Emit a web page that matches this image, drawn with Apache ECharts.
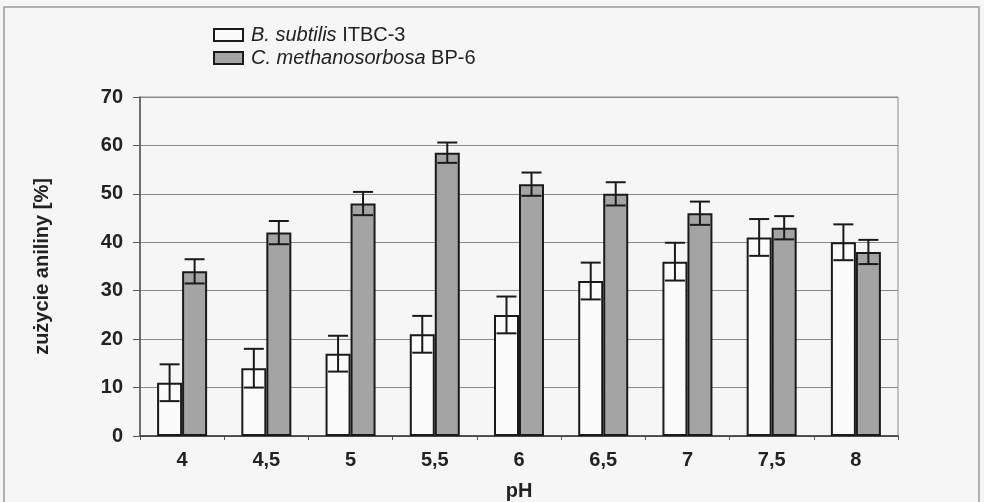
<!DOCTYPE html>
<html>
<head>
<meta charset="utf-8">
<script src="https://cdn.jsdelivr.net/npm/echarts@6/dist/echarts.min.js"></script>
<style>
html,body{margin:0;padding:0;background:#f6f6f6;}
#chart{width:984px;height:502px;}
</style>
</head>
<body>
<div id="chart"></div>
<script>
// ---- data ----
var categories = ['4', '4,5', '5', '5,5', '6', '6,5', '7', '7,5', '8'];
var seriesNames = ['B. subtilis ITBC-3', 'C. methanosorbosa BP-6'];
var subtilisValues = [11, 14, 17, 21, 25, 32, 36, 41, 40];
var subtilisErrors = [3.8, 4, 3.7, 3.8, 3.8, 3.8, 3.9, 3.8, 3.7];
var methanoValues = [34, 42, 48, 58.5, 52, 50, 46, 43, 38];
var methanoErrors = [2.5, 2.4, 2.4, 2.1, 2.4, 2.4, 2.4, 2.4, 2.5];
var yTicks = [0, 10, 20, 30, 40, 50, 60, 70];
var yTitle = 'zużycie aniliny [%]';
var xTitle = 'pH';
var legendRich = {
  'B. subtilis ITBC-3': '{i|B. subtilis} ITBC-3',
  'C. methanosorbosa BP-6': '{i|C. methanosorbosa} BP-6'
};

var chart = echarts.init(document.getElementById('chart'), null, {renderer: 'canvas'});
var FONT = '"Liberation Sans", Arial, sans-serif';
var BAR_W = 25;

function errorSeries(values, errors, offset) {
  var data = values.map(function (v, i) { return [i, v - errors[i], v + errors[i]]; });
  return {
    type: 'custom',
    silent: true,
    z: 10,
    data: data,
    encode: {x: 0, y: [1, 2]},
    renderItem: function (params, api) {
      var idx = api.value(0);
      var lo = api.coord([idx, api.value(1)]);
      var hi = api.coord([idx, api.value(2)]);
      var x = lo[0] + offset;
      var half = 10;
      var st = {stroke: '#1a1a1a', lineWidth: 2, fill: null};
      return {
        type: 'group',
        children: [
          {type: 'line', shape: {x1: x, y1: lo[1], x2: x, y2: hi[1]}, style: st},
          {type: 'line', shape: {x1: x - half, y1: hi[1], x2: x + half, y2: hi[1]}, style: st},
          {type: 'line', shape: {x1: x - half, y1: lo[1], x2: x + half, y2: lo[1]}, style: st}
        ]
      };
    }
  };
}

var option = {
  backgroundColor: '#f6f6f6',
  animation: false,
  textStyle: {fontFamily: FONT},
  graphic: [{
    type: 'rect',
    shape: {x: 4, y: 7, width: 975, height: 510},
    style: {fill: null, stroke: '#9a9a9a', lineWidth: 1.5},
    silent: true, z: -1
  }],
  legend: {
    orient: 'vertical',
    left: 208,
    top: 20,
    itemWidth: 29,
    itemHeight: 12,
    itemGap: 3,
    icon: 'rect',
    data: seriesNames,
    formatter: function (n) { return legendRich[n]; },
    textStyle: {
      fontFamily: FONT, fontSize: 20, color: '#222', padding: [0, 0, 0, 3],
      rich: {i: {fontFamily: FONT, fontSize: 20, fontStyle: 'italic', color: '#222'}}
    }
  },
  grid: {
    left: 140, right: 86, top: 97, bottom: 66,
    outerBoundsMode: 'none',
    containLabel: false,
    show: true, borderColor: '#8a8a8a', borderWidth: 1, backgroundColor: 'transparent'
  },
  xAxis: {
    type: 'category',
    data: categories,
    name: xTitle,
    nameLocation: 'middle',
    nameGap: 45,
    nameTextStyle: {fontFamily: FONT, fontSize: 20, fontWeight: 'bold', color: '#222'},
    axisLine: {lineStyle: {color: '#333', width: 1.5}},
    axisTick: {show: true, length: 4, lineStyle: {color: '#555'}},
    axisLabel: {fontFamily: FONT, fontSize: 20, fontWeight: 'bold', color: '#222', margin: 14}
  },
  yAxis: {
    type: 'value',
    min: 0, max: 70, interval: 10,
    name: yTitle,
    nameLocation: 'middle',
    nameGap: 88,
    nameRotate: 90,
    nameTextStyle: {fontFamily: FONT, fontSize: 20, fontWeight: 'bold', color: '#222'},
    axisLine: {show: true, lineStyle: {color: '#555', width: 1.5}},
    axisTick: {show: true, length: 7, lineStyle: {color: '#555'}},
    axisLabel: {
      fontFamily: FONT, fontSize: 20, fontWeight: 'bold', color: '#222', margin: 17,
      customValues: yTicks
    },
    splitLine: {lineStyle: {color: '#8a8a8a', width: 1}}
  },
  series: [
    {
      name: seriesNames[0],
      type: 'bar',
      data: subtilisValues,
      barWidth: BAR_W,
      barGap: '0%',
      itemStyle: {color: '#fbfbfb', borderColor: '#1a1a1a', borderWidth: 2}
    },
    {
      name: seriesNames[1],
      type: 'bar',
      data: methanoValues,
      barWidth: BAR_W,
      barGap: '0%',
      itemStyle: {color: '#a4a4a4', borderColor: '#1a1a1a', borderWidth: 2}
    },
    errorSeries(subtilisValues, subtilisErrors, -BAR_W / 2),
    errorSeries(methanoValues, methanoErrors, BAR_W / 2)
  ]
};
chart.setOption(option);
</script>
</body>
</html>
